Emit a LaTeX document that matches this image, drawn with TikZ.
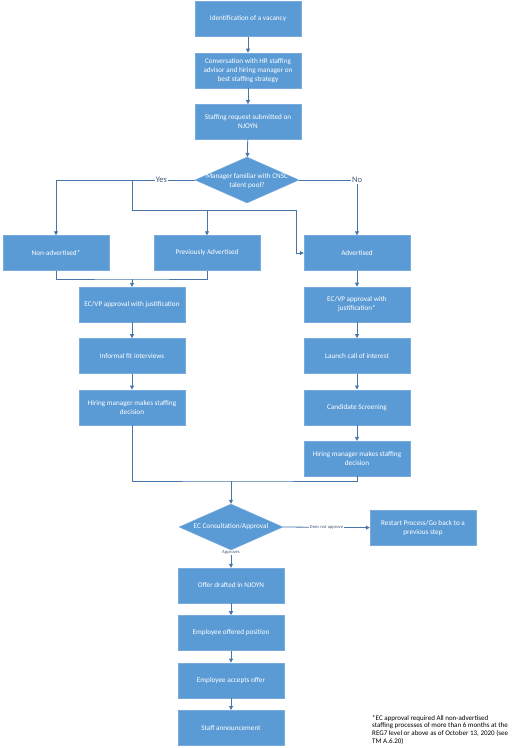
\documentclass[tikz,border=0pt]{standalone}
\usepackage{fontspec}
\setmainfont{Carlito}
\usepackage{tikz}
\usetikzlibrary{positioning, arrows.meta, shapes.geometric}
\definecolor{boxblue}{RGB}{91,155,213}
\definecolor{boxedge}{RGB}{120,172,222}
\definecolor{linkblue}{RGB}{72,118,168}
\definecolor{lbltext}{RGB}{70,90,120}

\begin{document}
\begin{tikzpicture}[x=1pt,y=-1pt,node distance=16pt,
            box/.style={draw=boxedge,fill=boxblue,text=white,
                        minimum width=106pt,minimum height=35pt,
                        inner xsep=1pt,align=center,
                        font=\fontsize{7.2}{8.8}\selectfont},
            choice/.style={diamond,draw=boxedge,fill=boxblue,
                        minimum width=104pt,minimum height=46pt,inner sep=0pt},
            qtext/.style={text=white,align=center,font=\fontsize{7.2}{8.6}\selectfont},
            yesno/.style={fill=white,inner sep=1pt,text=lbltext,
                        font=\fontsize{8.5}{9}\selectfont},
            tiny/.style={fill=white,inner sep=0.8pt,text=lbltext,
                        font=\fontsize{4.6}{5}\selectfont},
            line/.style={draw=linkblue,line width=0.8pt},
            arrow/.style={line,-{Triangle[length=4pt,width=4pt]}}]
        \useasboundingbox (0,0) rectangle (525,748);
        \node[box] (ident) at (248,19) {Identification of a vacancy};
        \node[box,below=of ident] (conv)
            {Conversation with HR staffing\\advisor and hiring manager on\\best staffing strategy};
        \node[box,below=of conv] (req) {Staffing request submitted on\\NJOYN};
        \node[choice] (pool) at (247,180) {};
        \node[qtext] (pooltext) at (247,181) {Manager familiar with CNSC\\talent pool?};
        \node[box] (nonadv) at (56,253) {Non-advertised*};
        \node[box] (prev) at (207,253) {Previously Advertised};
        \node[box] (adv) at (357,253) {Advertised};
        \node[box] (ecl) at (132,304.5) {EC/VP approval with justification};
        \node[box,below=of ecl] (fit) {Informal fit interviews};
        \node[box,below=of fit] (hirel) {Hiring manager makes staffing\\decision};
        \node[box,below=of adv] (ecr) {EC/VP approval with\\justification*};
        \node[box,below=of ecr] (launch) {Launch call of interest};
        \node[box,below=of launch] (screen) {Candidate Screening};
        \node[box,below=of screen] (hirer) {Hiring manager makes staffing\\decision};
        \node[choice] (ec) at (231,527) {};
        \node[qtext] (ectext) at (231,527) {EC Consultation/Approval};
        \node[box] (restart) at (423,528) {Restart Process/Go back to a\\previous step};
        \node[box] (offer) at (231,585.5) {Offer drafted in NJOYN};
        \node[box,below=12pt of offer] (offered) {Employee offered position};
        \node[box,below=12pt of offered] (accepts) {Employee accepts offer};
        \node[box,below=12pt of accepts] (announce) {Staff announcement};
        \node[anchor=north west,align=left,inner sep=0pt,
              font=\fontsize{7}{7.8}\selectfont] (note) at (372,715)
            {*EC approval required All non-advertised\\
             staffing processes of more than 6 months at the\\
             REG7 level or above as of October 13, 2020 (see\\
             TM A.6.20)};
        \coordinate (ysplit) at (132,180);
        \coordinate (ybus) at (132,210);
        \coordinate (advbend) at (296,210);
        \coordinate (lmerge) at (132,279);
        \coordinate (bmerge) at (231,481);
        \draw[arrow] (ident) -- (conv);
        \draw[arrow] (conv) -- (req);
        \draw[arrow] (req) -- (pool);
        \draw[arrow] (pool.west) -| (nonadv.north) node[yesno,pos=0.12] {Yes};
        \draw[line] (ysplit) -- (ybus);
        \draw[arrow] (ybus) -- (advbend) |- (adv.west);
        \draw[arrow] (ybus -| prev.north) -- (prev.north);
        \draw[arrow] (pool.east) -| (adv.north) node[yesno,pos=0.5] {No};
        \draw[line] (nonadv.south) |- (lmerge) -| (prev.south);
        \draw[arrow] (lmerge) -- (ecl);
        \draw[arrow] (ecl) -- (fit);
        \draw[arrow] (fit) -- (hirel);
        \draw[arrow] (adv) -- (ecr);
        \draw[arrow] (ecr) -- (launch);
        \draw[arrow] (launch) -- (screen);
        \draw[arrow] (screen) -- (hirer);
        \draw[line] (hirel.south) |- (bmerge) -| (hirer.south);
        \draw[arrow] (bmerge) -- (ec.north);
        \draw[arrow] (ec.east) -- (restart) node[tiny,midway] {Does not approve};
        \draw[arrow] (ec.south) -- (offer) node[tiny,pos=0.15] {Approves};
        \draw[arrow] (offer) -- (offered);
        \draw[arrow] (offered) -- (accepts);
        \draw[arrow] (accepts) -- (announce);
        \end{tikzpicture}
\end{document}
